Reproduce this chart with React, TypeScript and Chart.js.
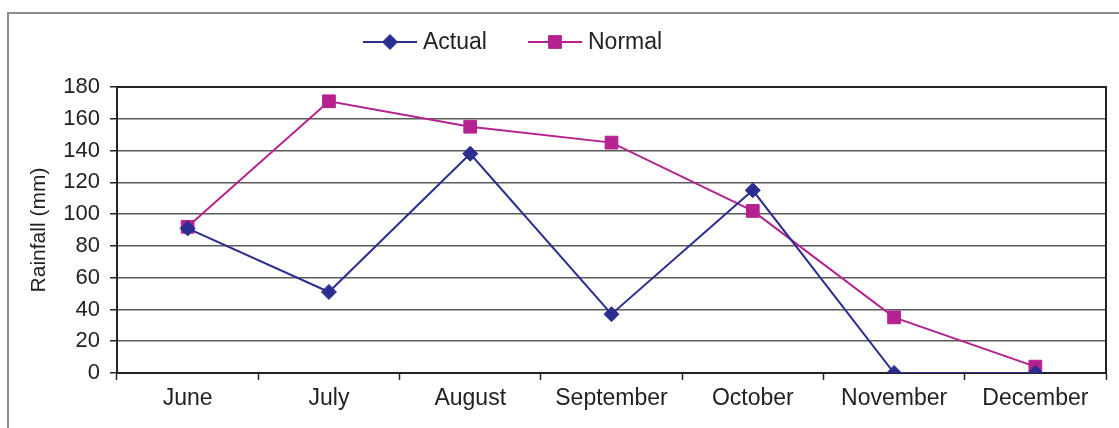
import React, { useEffect, useRef } from "react";
import { Chart, registerables } from "chart.js";

Chart.register(...registerables);

const categories = ["June", "July", "August", "September", "October", "November", "December"];
const actualValues = [91, 51, 138, 37, 115, 0, 0];
const normalValues = [92, 171, 155, 145, 102, 35, 4];
const seriesNames = ["Actual", "Normal"];
const yMin = 0;
const yMax = 180;
const yStep = 20;
const yTitle = "Rainfall (mm)";

const ACTUAL_COLOR = "#2B2E8F";
const NORMAL_COLOR = "#B5228F";
const TEXT_COLOR = "#222222";
const FONT_FAMILY = "'Liberation Sans', Arial, sans-serif";

function drawMarker(ctx: CanvasRenderingContext2D, style: string, r: number, x: number, y: number) {
  ctx.beginPath();
  if (style === "rectRot") {
    ctx.moveTo(x, y - r);
    ctx.lineTo(x + r, y);
    ctx.lineTo(x, y + r);
    ctx.lineTo(x - r, y);
    ctx.closePath();
  } else {
    const s = Math.SQRT1_2 * r;
    ctx.rect(x - s, y - s, 2 * s, 2 * s);
  }
  ctx.fill();
  ctx.stroke();
}

const legendPlugin = {
  id: "lineLegend",
  afterDraw(chart: any) {
    const ctx = chart.ctx;
    const starts = [363, 528];
    const y = 42;
    chart.data.datasets.forEach((ds: any, i: number) => {
      const x0 = starts[i];
      ctx.save();
      ctx.strokeStyle = ds.borderColor;
      ctx.fillStyle = ds.pointBackgroundColor;
      ctx.lineWidth = 2;
      ctx.beginPath();
      ctx.moveTo(x0, y);
      ctx.lineTo(x0 + 54, y);
      ctx.stroke();
      ctx.lineWidth = 1;
      drawMarker(ctx, ds.pointStyle, ds.pointRadius, x0 + 27, y);
      ctx.fillStyle = TEXT_COLOR;
      ctx.font = `23px ${FONT_FAMILY}`;
      ctx.textBaseline = "middle";
      ctx.textAlign = "left";
      ctx.fillText(ds.label, x0 + 60, y + 1);
      ctx.restore();
    });
  },
};

const frameBorderPlugin = {
  id: "plotBorder",
  beforeDatasetsDraw(chart: any) {
    const { ctx, chartArea } = chart;
    ctx.save();
    ctx.strokeStyle = "#222";
    ctx.lineWidth = 2;
    ctx.beginPath();
    ctx.moveTo(chartArea.left, chartArea.top);
    ctx.lineTo(chartArea.right, chartArea.top);
    ctx.lineTo(chartArea.right, chartArea.bottom);
    ctx.stroke();
    ctx.restore();
  },
};

export default function App() {
  const canvasRef = useRef<HTMLCanvasElement | null>(null);

  useEffect(() => {
    if (!canvasRef.current) return;
    const chart = new Chart(canvasRef.current, {
      type: "line",
      data: {
        labels: categories,
        datasets: [
          {
            label: seriesNames[0],
            data: actualValues,
            borderColor: ACTUAL_COLOR,
            backgroundColor: ACTUAL_COLOR,
            pointBackgroundColor: ACTUAL_COLOR,
            pointBorderColor: ACTUAL_COLOR,
            pointStyle: "rectRot",
            pointRadius: 7.5,
            pointBorderWidth: 1,
            borderWidth: 2,
            tension: 0,
          },
          {
            label: seriesNames[1],
            data: normalValues,
            borderColor: NORMAL_COLOR,
            backgroundColor: NORMAL_COLOR,
            pointBackgroundColor: NORMAL_COLOR,
            pointBorderColor: NORMAL_COLOR,
            pointStyle: "rect",
            pointRadius: 9,
            pointBorderWidth: 1,
            borderWidth: 2,
            tension: 0,
          },
        ] as any,
      },
      options: {
        responsive: false,
        animation: false,
        layout: { padding: { top: 87, right: 13, bottom: 0, left: 0 } },
        plugins: {
          legend: { display: false },
          tooltip: { enabled: false },
        },
        scales: {
          x: {
            offset: true,
            grid: {
              offset: true,
              drawOnChartArea: false,
              drawTicks: true,
              tickLength: 7,
              tickColor: "#222",
              tickWidth: 1.5,
            },
            border: { color: "#222", width: 2 },
            ticks: {
              color: TEXT_COLOR,
              font: { family: FONT_FAMILY, size: 23 },
              padding: 5,
              maxRotation: 0,
              autoSkip: false,
            },
            afterFit(scale: any) {
              scale.height = 55;
            },
          },
          y: {
            min: yMin,
            max: yMax,
            grid: {
              color: "#5a5a5a",
              lineWidth: 1.5,
              tickLength: 7,
              tickColor: "#222",
              tickWidth: 1.5,
            },
            border: { color: "#222", width: 2 },
            ticks: {
              stepSize: yStep,
              color: TEXT_COLOR,
              font: { family: FONT_FAMILY, size: 22 },
              padding: 10,
            },
            title: {
              display: true,
              text: yTitle,
              color: TEXT_COLOR,
              font: { family: FONT_FAMILY, size: 21 },
              padding: { top: 27, bottom: 0 },
            },
            afterFit(scale: any) {
              scale.width = 117;
            },
          },
        },
      } as any,
      plugins: [legendPlugin, frameBorderPlugin],
    });
    return () => chart.destroy();
  }, []);

  return (
    <div style={{ position: "absolute", left: 0, top: 0, width: 1119, height: 428, background: "#fff", overflow: "hidden" }}>
      <div
        style={{
          position: "absolute",
          left: 7,
          top: 12,
          width: 1200,
          height: 500,
          borderLeft: "2px solid #8c8c8c",
          borderTop: "2px solid #8c8c8c",
        }}
      />
      <canvas ref={canvasRef} width={1119} height={428} style={{ position: "absolute", left: 0, top: 0, display: "block" }} />
    </div>
  );
}
